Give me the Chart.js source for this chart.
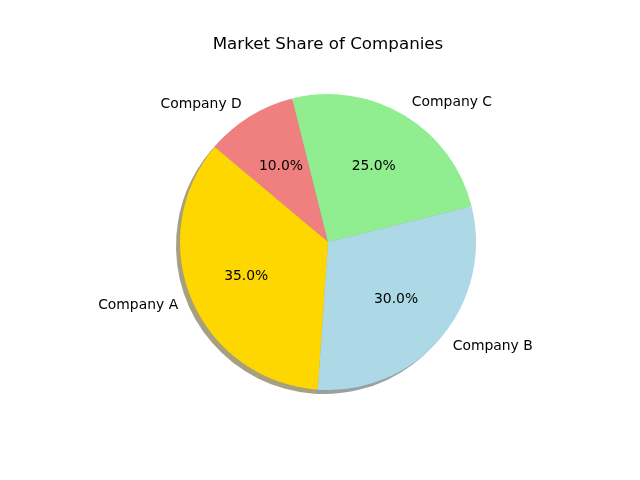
<!DOCTYPE html>
<html>
<head>
<meta charset="utf-8">
<script src="https://cdn.jsdelivr.net/npm/chart.js@4/dist/chart.umd.min.js"></script>
<style>
  html, body { margin: 0; padding: 0; background: #fff; }
  #wrap { width: 640px; height: 480px; }
</style>
</head>
<body>
<div id="wrap"><canvas id="pie" width="640" height="480"></canvas></div>
<script>
/* ================= DATA ================= */
const companies = ["Company A", "Company B", "Company C", "Company D"];
const shares = [35, 30, 25, 10];
const colors = ["#FFD700", "#ADD8E6", "#90EE90", "#F08080"];

// matplotlib goes counter-clockwise from 140deg, Chart.js goes clockwise,
// so feed the slices in reverse order
const labelsCw = companies.slice().reverse();
const valuesCw = shares.slice().reverse();
const colorsCw = colors.slice().reverse();

const FONT = "DejaVu Sans";
const SHADOW_OFF = 4;

/* ================= HELPERS ================= */
// shadow = 0.3 * face colour at alpha 0.5
const shadowOf = hex => {
  const n = parseInt(hex.slice(1), 16);
  const r = ((n >> 16) & 255) * 0.3;
  const g = ((n >> 8) & 255) * 0.3;
  const b = (n & 255) * 0.3;
  return `rgba(${r},${g},${b},0.5)`;
};

/* ================= PLUGINS ================= */
const pieShadow = {
  id: "pieShadow",
  beforeDatasetsDraw(chart) {
    const ctx = chart.ctx;
    const meta = chart.getDatasetMeta(0);
    ctx.save();
    meta.data.forEach((arc, i) => {
      const p = arc.getProps(["x", "y", "startAngle", "endAngle", "outerRadius"], true);
      const sx = p.x - SHADOW_OFF, sy = p.y + SHADOW_OFF;
      ctx.beginPath();
      ctx.moveTo(sx, sy);
      ctx.arc(sx, sy, p.outerRadius, p.startAngle, p.endAngle);
      ctx.closePath();
      ctx.fillStyle = shadowOf(colorsCw[i]);
      ctx.fill();
    });
    ctx.restore();
  }
};

const pieLabels = {
  id: "pieLabels",
  afterDatasetsDraw(chart) {
    const ctx = chart.ctx;
    const meta = chart.getDatasetMeta(0);
    const total = valuesCw.reduce((s, v) => s + v, 0);
    ctx.save();
    ctx.font = `13.9px "${FONT}"`;
    ctx.fillStyle = "#000";
    ctx.textBaseline = "middle";
    meta.data.forEach((arc, i) => {
      const p = arc.getProps(["x", "y", "startAngle", "endAngle", "outerRadius"], true);
      const mid = (p.startAngle + p.endAngle) / 2;
      const cx = Math.cos(mid), cy = Math.sin(mid);

      // category label outside
      const lx = p.x + cx * p.outerRadius * 1.1;
      const ly = p.y + cy * p.outerRadius * 1.1;
      ctx.textAlign = cx > 0 ? "left" : "right";
      ctx.fillText(labelsCw[i], lx, ly);

      // percent inside
      const px = p.x + cx * p.outerRadius * 0.6;
      const py = p.y + cy * p.outerRadius * 0.6;
      ctx.textAlign = "center";
      ctx.fillText((valuesCw[i] / total * 100).toFixed(1) + "%", px, py);
    });
    ctx.restore();
  }
};

/* ================= CHART ================= */
new Chart(document.getElementById("pie"), {
  type: "pie",
  data: {
    labels: labelsCw,
    datasets: [{
      data: valuesCw,
      backgroundColor: colorsCw,
      borderWidth: 0,
      hoverOffset: 0,
      offset: 0,
      radius: 148
    }]
  },
  options: {
    responsive: false,
    animation: false,
    rotation: -50,
    layout: { padding: { left: 40, right: 24, top: 0, bottom: 91 } },
    plugins: {
      legend: { display: false },
      tooltip: { enabled: false },
      title: {
        display: true,
        text: "Market Share of Companies",
        color: "#000",
        font: { family: FONT, size: 16.7, weight: "normal", lineHeight: 1.2 },
        padding: { top: 35, bottom: 40 }
      }
    }
  },
  plugins: [pieShadow, pieLabels]
});
</script>
</body>
</html>
